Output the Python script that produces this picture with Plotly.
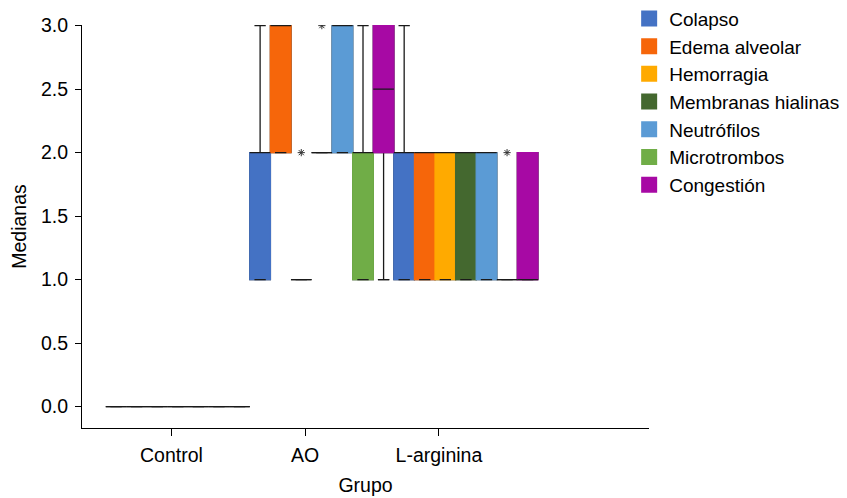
import plotly.graph_objects as go

# ---------------- data ----------------
groups = ["Control", "AO", "L-arginina"]
series = ["Colapso", "Edema alveolar", "Hemorragia", "Membranas hialinas",
          "Neutrófilos", "Microtrombos", "Congestión"]
colors = ["#4472C4", "#F6660A", "#FFAA00", "#44682F", "#5B9BD5", "#70AD47", "#A709A4"]

# statistics per series (order of `series`) for each group
control_q1 = [0, 0, 0, 0, 0, 0, 0]
control_median = [0, 0, 0, 0, 0, 0, 0]
control_q3 = [0, 0, 0, 0, 0, 0, 0]
control_low = [0, 0, 0, 0, 0, 0, 0]
control_high = [0, 0, 0, 0, 0, 0, 0]
control_outliers = [[], [], [], [], [], [], []]

ao_q1 = [1, 2, 1, 2, 2, 1, 2]
ao_median = [2, 3, 1, 2, 3, 2, 2.5]
ao_q3 = [2, 3, 1, 2, 3, 2, 3]
ao_low = [1, 2, 1, 2, 2, 1, 1]
ao_high = [3, 3, 1, 2, 3, 3, 3]
ao_outliers = [[], [], [2], [3], [], [], []]

larg_q1 = [1, 1, 1, 1, 1, 1, 1]
larg_median = [2, 2, 2, 2, 2, 1, 1]
larg_q3 = [2, 2, 2, 2, 2, 1, 2]
larg_low = [1, 1, 1, 1, 1, 1, 1]
larg_high = [3, 2, 2, 2, 2, 1, 2]
larg_outliers = [[], [], [], [], [], [2], []]

y_ticks = [0, 0.5, 1.0, 1.5, 2.0, 2.5, 3.0]

# ---------------- layout constants ----------------
FONT = "Liberation Sans, Arial, Helvetica, sans-serif"
n = len(series)
bw = 1.0 / n                        # box width in data units (group width = 1)
cap = 0.55                          # whisker cap width as fraction of box width
tick_pos = [-0.044, 0.884, 1.8125]  # where the category labels sit on the axis

stats = {
    "q1": [control_q1, ao_q1, larg_q1],
    "median": [control_median, ao_median, larg_median],
    "q3": [control_q3, ao_q3, larg_q3],
    "low": [control_low, ao_low, larg_low],
    "high": [control_high, ao_high, larg_high],
    "out": [control_outliers, ao_outliers, larg_outliers],
}


def col(key, i):
    return [stats[key][g][i] for g in range(len(groups))]


def positions(i):
    return [g + (i - (n - 1) / 2) * bw for g in range(len(groups))]


def flat_box(xs, v, width, color, lw):
    return go.Box(
        x=xs, q1=v, median=v, q3=v, lowerfence=v, upperfence=v,
        width=width, whiskerwidth=0, boxpoints=False,
        fillcolor="rgba(0,0,0,0)", line=dict(color=color, width=lw),
        showlegend=False, hoverinfo="skip")


fig = go.Figure()

# layer 1: outline, whiskers and caps (dark)
for i, name in enumerate(series):
    fig.add_trace(go.Box(
        x=positions(i), q1=col("q1", i), median=col("median", i), q3=col("q3", i),
        lowerfence=col("low", i), upperfence=col("high", i),
        width=bw, whiskerwidth=cap, boxpoints=False,
        fillcolor="rgba(0,0,0,0)", line=dict(color="#1a1a1a", width=1.3),
        showlegend=False, hoverinfo="skip"))

# layer 2: coloured boxes (outline same colour as fill); flat boxes are skipped
for i, name in enumerate(series):
    q1v, q3v = col("q1", i), col("q3", i)
    xs = [p if a != b else None for p, a, b in zip(positions(i), q1v, q3v)]
    fig.add_trace(go.Box(
        x=xs, q1=q1v, median=q1v, q3=q3v, lowerfence=q1v, upperfence=q3v,
        width=bw, whiskerwidth=0, boxpoints=False,
        fillcolor=colors[i], line=dict(color=colors[i], width=1.3),
        showlegend=False, name=name))

# layer 3: median lines and lower whisker caps (dark)
for i, name in enumerate(series):
    fig.add_trace(flat_box(positions(i), col("median", i), bw, "#1a1a1a", 1.3))
    fig.add_trace(flat_box(positions(i), col("low", i), bw * cap, "#1a1a1a", 1.3))

# outliers
for i, name in enumerate(series):
    xs, ys = [], []
    for g, p in enumerate(positions(i)):
        for v in stats["out"][g][i]:
            xs.append(p)
            ys.append(v)
    if xs:
        fig.add_trace(go.Scatter(
            x=xs, y=ys, mode="markers",
            marker=dict(symbol="asterisk-open", size=6, color="#333333",
                        line=dict(color="#333333", width=1)),
            showlegend=False, hoverinfo="skip"))

# legend entries
for i, name in enumerate(series):
    fig.add_trace(go.Scatter(
        x=[None], y=[None], mode="markers", name=name,
        marker=dict(symbol="square", size=16, color=colors[i], line=dict(width=0))))

# the page body has an 8px margin, so the figure is 8px smaller than the window
fig.update_layout(
    width=839, height=490, autosize=False,
    margin=dict(l=74, r=198, t=17, b=70, autoexpand=False),
    paper_bgcolor="white", plot_bgcolor="white",
    font=dict(family=FONT, size=19.5, color="black"),
    boxmode="overlay",
    showlegend=True,
    legend=dict(x=0.965, y=1.063, xanchor="left", yanchor="top",
                font=dict(family=FONT, size=19, color="black"),
                bgcolor="rgba(0,0,0,0)", borderwidth=0),
)
fig.update_xaxes(
    range=[-0.665, 3.271], tickmode="array", tickvals=tick_pos, ticktext=groups,
    showline=True, linecolor="black", linewidth=1, mirror=False,
    ticks="outside", ticklen=7, tickcolor="black", showgrid=False, zeroline=False,
    ticklabelstandoff=3,
    title=dict(text="Grupo", font=dict(size=19.5), standoff=12),
)
fig.update_yaxes(
    range=[-0.168, 3.005], tickmode="array", tickvals=y_ticks,
    ticktext=[f"{v:.1f}" for v in y_ticks],
    showline=True, linecolor="black", linewidth=1,
    ticks="outside", ticklen=6, tickcolor="black", showgrid=False, zeroline=False,
    ticklabelstandoff=3,
    title=dict(text="Medianas", font=dict(size=19.5), standoff=10),
)

fig.write_html("out.html")
